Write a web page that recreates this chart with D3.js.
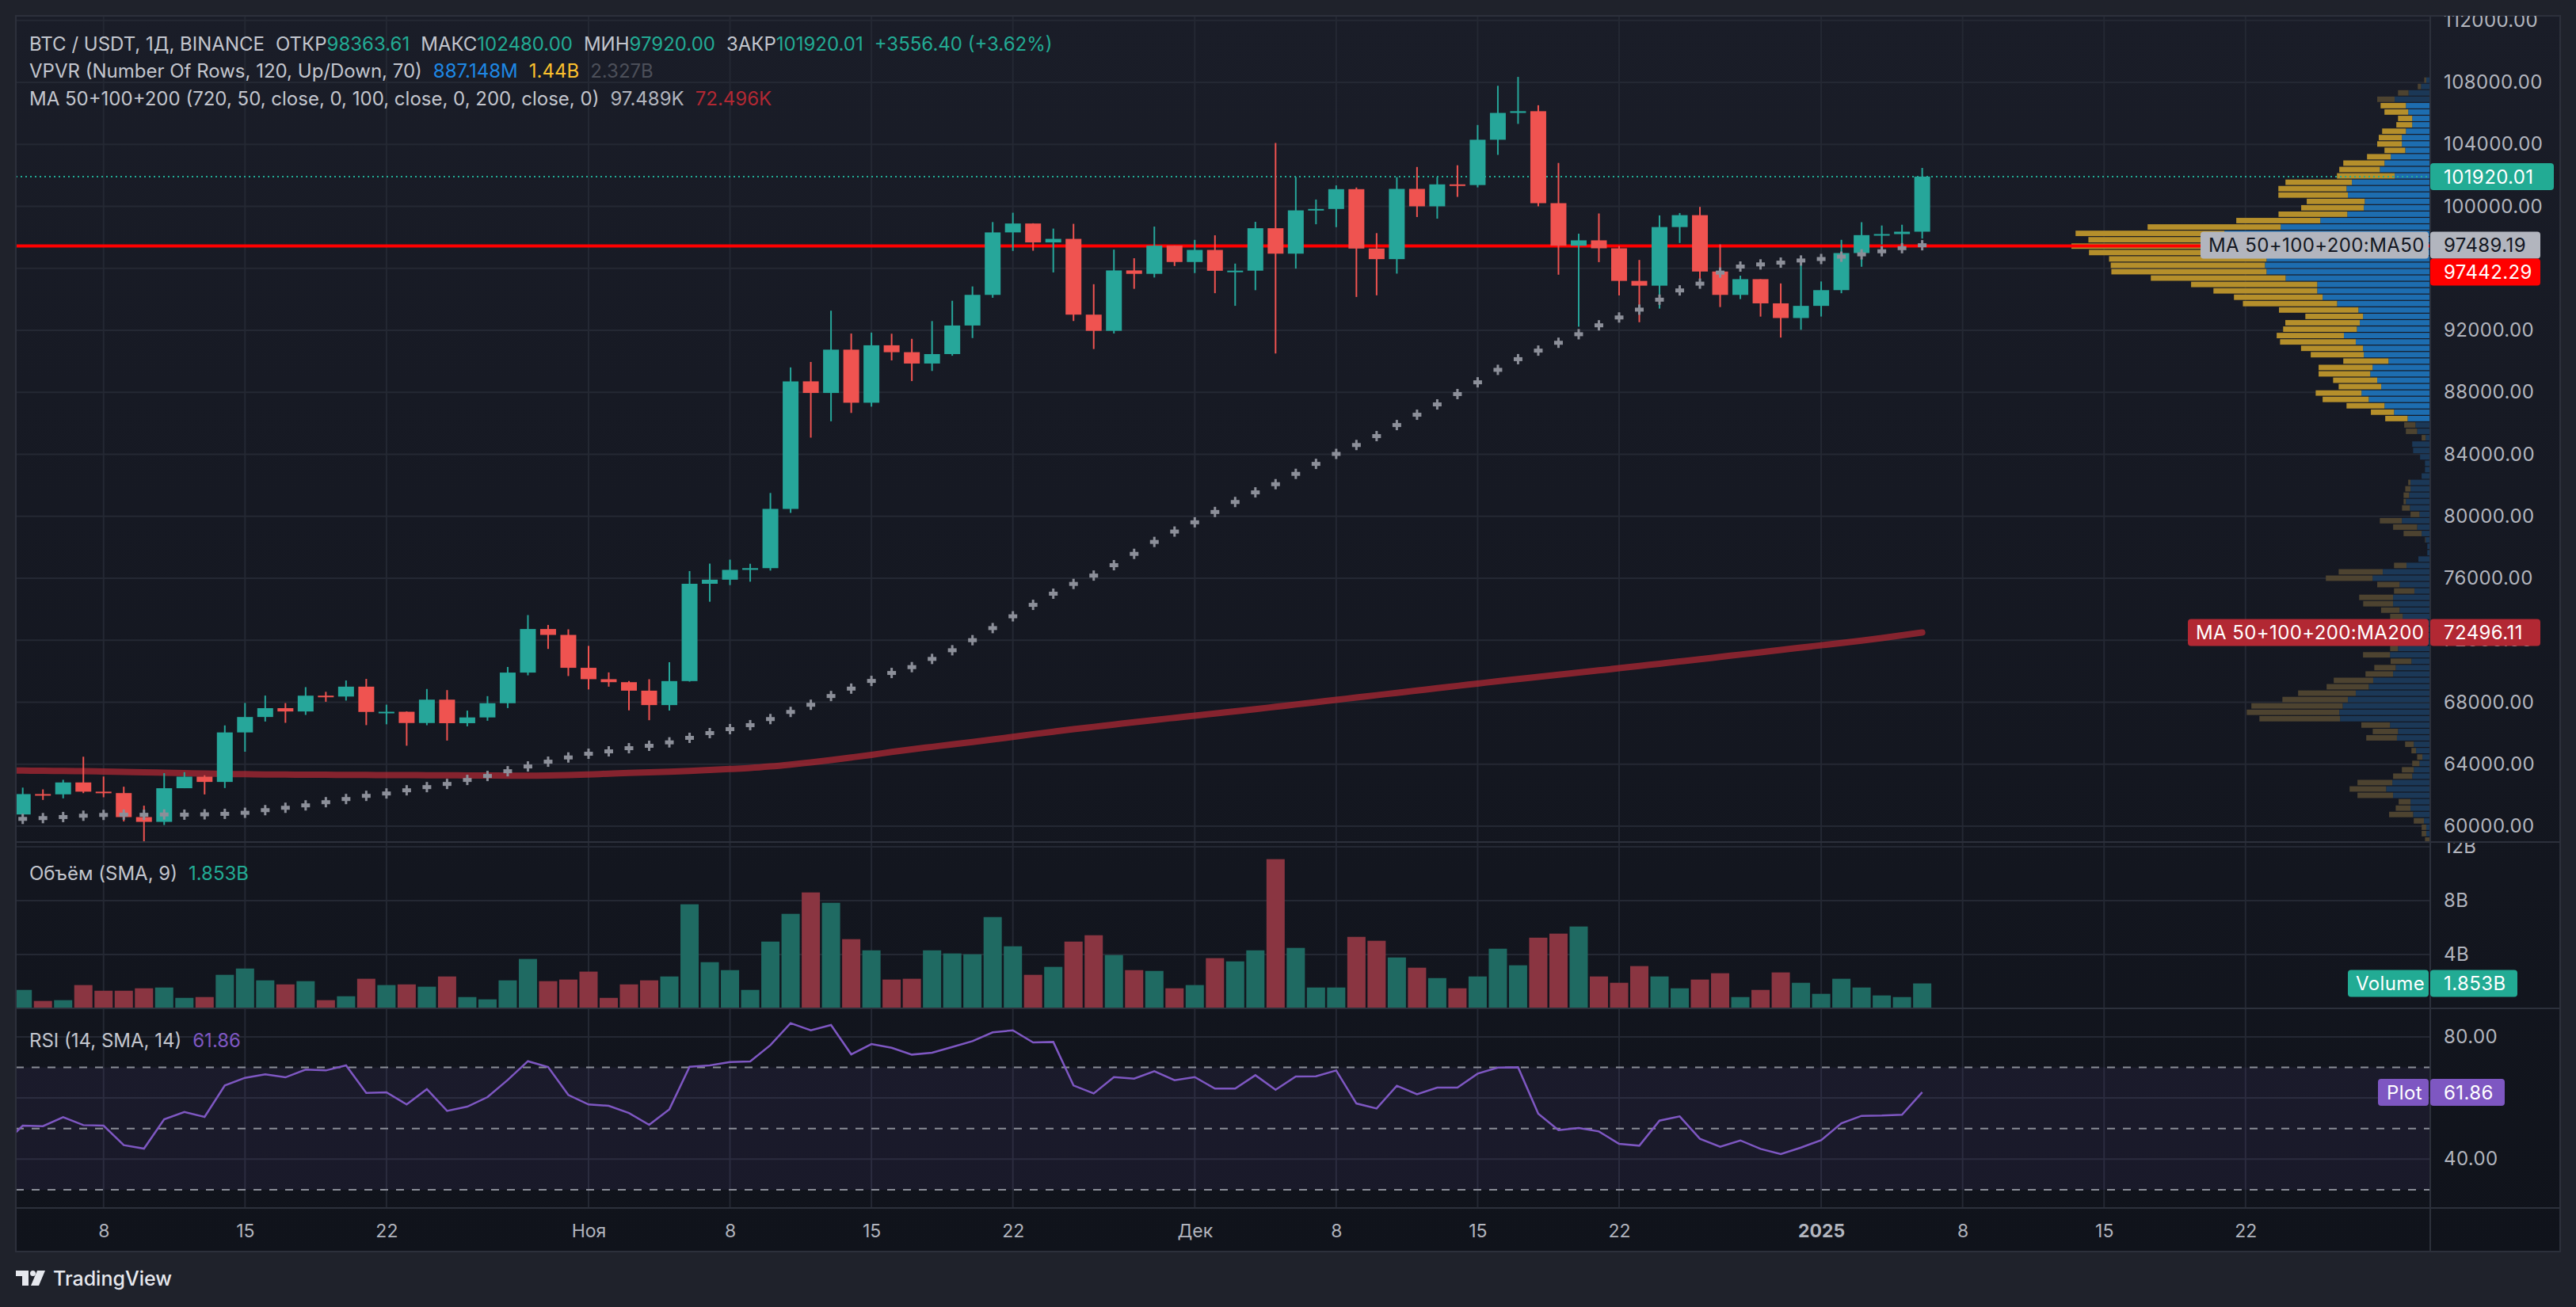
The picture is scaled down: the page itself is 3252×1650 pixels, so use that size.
<!DOCTYPE html>
<html>
<head>
<meta charset="utf-8">
<script src="https://cdn.jsdelivr.net/npm/d3@7"></script>
<style>
  body { margin: 0; background: #1f222b; }
  svg { display: block; }
</style>
</head>
<body>
<svg id="chart"></svg>
<script>
// ---- data ----
const firstDay = new Date(Date.UTC(2024, 9, 4));
const dates = d3.utcDay.range(firstDay, new Date(Date.UTC(2025, 0, 7)));   // Oct 4 .. Jan 6
const prevDay = new Date(Date.UTC(2024, 9, 3));

const open = [60750, 62067, 62050, 62818, 62224, 62131, 60582, 60274, 62445, 63193,
  62851, 66046, 67042, 67612, 67399, 68418, 68362, 69001, 67368, 67380,
  66653, 68161, 66642, 67014, 67930, 69908, 72720, 72340, 70216, 69482,
  69289, 68741, 67811, 69359, 75640, 75905, 76538, 76649, 80471, 88705,
  87955, 90751, 87325, 91032, 90587, 89855, 90464, 92310, 94286, 98318,
  98892, 97672, 97900, 93010, 91965, 95864, 95643, 97461, 96407, 97185,
  95840, 95849, 98587, 96945, 99741, 99831, 101109, 97276, 96593, 101126,
  100001, 101418, 101373, 104298, 106030, 106140, 100204, 97461, 97805, 97292,
  95187, 94880, 98663, 99430, 95792, 94284, 95300, 93738, 92792, 93576,
  94592, 96984, 98142, 98210, 98363.61];
const high = [62484, 62370, 62988, 64478, 63200, 62543, 61320, 63417, 63480, 63282,
  66500, 67950, 68424, 67939, 68969, 68668, 69400, 69500, 67836, 67402,
  68850, 68777, 67454, 68388, 70270, 73620, 72984, 72700, 71632, 69919,
  69362, 69480, 70577, 76460, 76943, 77199, 76932, 81500, 89604, 89956,
  93265, 91790, 91850, 91779, 91449, 92594, 93905, 94831, 98984, 99588,
  98908, 98564, 98871, 94973, 97208, 96650, 98693, 97463, 97836, 98130,
  96305, 99000, 104088, 101898, 100439, 101351, 101215, 98270, 101888, 102540,
  101895, 102650, 105250, 107780, 108353, 106524, 102800, 98233, 99540, 97448,
  96539, 99416, 99569, 99963, 97544, 95525, 95300, 95024, 96250, 95151,
  97839, 98976, 98763, 98813, 102480];
const low = [60459, 61689, 61792, 62128, 61860, 60300, 58895, 60070, 62445, 62045,
  62457, 64800, 66750, 66666, 67177, 68024, 68100, 66518, 66571, 65188,
  66510, 65521, 66439, 66800, 67618, 69730, 71436, 69685, 68820, 69000,
  67478, 66835, 67458, 69322, 74480, 75555, 75773, 76492, 80216, 85072,
  86127, 86668, 87073, 90056, 88722, 89376, 90357, 91500, 94100, 97122,
  97136, 95734, 92600, 90791, 91792, 94677, 95407, 96150, 95693, 94395,
  93579, 94587, 90500, 95981, 98844, 98657, 94150, 94256, 95658, 99311,
  99205, 100610, 101222, 103322, 105321, 100000, 95587, 92232, 96398, 94250,
  92520, 93400, 97632, 95200, 93500, 94014, 92883, 91530, 92033, 92888,
  94392, 96100, 97535, 97271, 97920];
const close = [62067, 62050, 62818, 62224, 62131, 60582, 60274, 62445, 63193, 62851,
  66046, 67041, 67612, 67399, 68418, 68362, 69001, 67368, 67380, 66653,
  68161, 66642, 67014, 67930, 69908, 72720, 72340, 70215, 69482, 69289,
  68741, 67811, 69360, 75640, 75905, 76538, 76649, 80474, 88701, 87955,
  90751, 87325, 91032, 90586, 89855, 90464, 92310, 94286, 98317, 98892,
  97672, 97900, 93010, 91965, 95863, 95643, 97461, 96407, 97185, 95841,
  95849, 98587, 96945, 99740, 99831, 101109, 97276, 96593, 101125, 100001,
  101418, 101373, 104298, 106030, 106140, 100204, 97461, 97805, 97291, 95187,
  94881, 98663, 99430, 95792, 94284, 95300, 93738, 92792, 93576, 94591,
  96984, 98142, 98210, 98363.61, 101920.01];

// volume, billions USDT
const volume = [1.37, 0.55, 0.61, 1.73, 1.31, 1.31, 1.49, 1.55, 0.78, 0.84,
  2.49, 2.96, 2.08, 1.78, 2.02, 0.61, 0.90, 2.20, 1.73, 1.78,
  1.61, 2.37, 0.84, 0.67, 2.08, 3.67, 2.02, 2.14, 2.73, 0.78,
  1.78, 2.08, 2.37, 7.73, 3.43, 2.84, 1.37, 4.96, 7.02, 8.61,
  7.84, 5.14, 4.31, 2.14, 2.20, 4.31, 4.08, 4.02, 6.78, 4.61,
  2.49, 3.08, 4.96, 5.43, 3.96, 2.84, 2.78, 1.49, 1.73, 3.73,
  3.49, 4.31, 11.08, 4.49, 1.55, 1.55, 5.31, 5.02, 3.78, 3.02,
  2.25, 1.49, 2.37, 4.43, 3.20, 5.25, 5.55, 6.08, 2.37, 1.90,
  3.14, 2.37, 1.49, 2.14, 2.61, 0.84, 1.37, 2.67, 1.90, 1.08,
  2.20, 1.55, 0.96, 0.84, 1.853];

const ma50 = [60466, 60517, 60585, 60671, 60722, 60740, 60730, 60750, 60740, 60760,
  60791, 60860, 61030, 61184, 61338, 61543, 61748, 61953, 62107, 62312,
  62517, 62722, 62979, 63235, 63542, 63850, 64158, 64431, 64671, 64825,
  65029, 65183, 65405, 65696, 66003, 66260, 66516, 66909, 67370, 67832,
  68396, 68874, 69370, 69883, 70260, 70790, 71350, 72000, 72780, 73540,
  74280, 75000, 75630, 76170, 76840, 77570, 78340, 79010, 79608, 80274,
  80918, 81539, 82068, 82734, 83378, 84022, 84597, 85171, 85884, 86551,
  87217, 87884, 88643, 89447, 90137, 90689, 91194, 91746, 92321, 92827,
  93333, 93976, 94574, 95011, 95724, 96114, 96252, 96367, 96505, 96600,
  96750, 96900, 97100, 97300, 97489.19];

// MA200 starts one day earlier (Oct 3) so the line runs to the left edge
const ma200 = [63600, 63580, 63570, 63560, 63545, 63525, 63500, 63475, 63450, 63420, 63395,
  63370, 63350, 63335, 63325, 63318, 63312, 63306, 63300, 63295, 63290,
  63285, 63280, 63272, 63265, 63258, 63255, 63268, 63295, 63335, 63385,
  63430, 63470, 63510, 63560, 63620, 63685, 63750, 63850, 63975, 64115,
  64265, 64430, 64600, 64785, 64955, 65115, 65275, 65430, 65590, 65760,
  65930, 66095, 66255, 66405, 66555, 66705, 66850, 66990, 67130, 67270,
  67410, 67550, 67700, 67850, 68000, 68150, 68300, 68450, 68600, 68750,
  68900, 69050, 69200, 69350, 69490, 69630, 69770, 69910, 70050, 70190,
  70335, 70480, 70625, 70770, 70920, 71070, 71220, 71370, 71520, 71670,
  71820, 71975, 72140, 72315, 72496.11];

// RSI 14, starts on Oct 3 as well
const rsi = [44.6, 50.95, 50.78, 53.71, 51.12, 50.95, 44.56, 43.44, 53.02, 55.44, 53.80,
  64.08, 66.58, 67.70, 66.75, 69.26, 69.00, 70.64, 61.66, 61.83, 57.86,
  62.87, 55.79, 57.17, 60.28, 65.89, 72.02, 70.12, 60.97, 57.86, 57.43,
  55.09, 51.21, 56.30, 70.21, 70.64, 71.76, 71.93, 77.29, 84.46, 82.12,
  83.85, 74.27, 77.63, 76.42, 74.18, 74.78, 76.68, 78.58, 81.45, 82.12,
  78.15, 78.32, 64.08, 61.49, 66.84, 66.32, 68.74, 65.80, 66.84, 63.04,
  63.04, 67.44, 62.69, 67.01, 67.10, 69.00, 58.20, 56.56, 63.99, 61.23,
  63.39, 63.39, 67.96, 69.95, 70.03, 54.84, 49.48, 50.17, 49.05, 44.99,
  44.39, 52.59, 53.97, 46.63, 44.04, 46.11, 43.35, 41.62, 43.78, 46.20,
  51.73, 54.15, 54.23, 54.49, 61.86];

// volume profile (visible range), 120 rows from the lowest low to the highest high, millions USDT
const vpLow = 58895, vpHigh = 108353, vpRows = 120;
const vpDown = [34, 30, 30, 66, 156, 96, 77, 231, 237, 226,
  124, 77, 47, 34, 30, 56, 199, 164, 186, 523,
  600, 592, 425, 374, 273, 256, 179, 139, 135, 175,
  51, 53, 64, 85, 75, 81, 120, 194, 220, 132,
  145, 303, 286, 81, 0, 0, 0, 4, 117, 156,
  143, 58, 51, 15, 36, 34, 15, 0, 0, 0,
  0, 0, 0, 26, 73, 73, 145, 150, 246, 299,
  297, 276, 286, 335, 350, 293, 344, 402, 491, 436,
  478, 483, 374, 515, 611, 575, 673, 818, 874, 1006,
  1000, 1021, 1006, 1440, 839, 965, 863, 545, 446, 406,
  376, 451, 442, 431, 374, 263, 267, 154, 135, 160,
  150, 154, 103, 92, 154, 164, 113, 68, 21, 13];
const vpUp = [0, 26, 26, 41, 111, 128, 128, 241, 286, 246,
  117, 107, 70, 51, 92, 107, 216, 209, 261, 585,
  590, 568, 534, 483, 399, 370, 241, 224, 122, 261,
  209, 203, 214, 203, 192, 179, 199, 241, 241, 103,
  199, 374, 308, 154, 77, 19, 19, 30, 56, 85,
  184, 70, 132, 158, 137, 128, 128, 56, 34, 34,
  66, 111, 117, 30, 85, 96, 147, 235, 297, 399,
  446, 318, 344, 389, 374, 271, 431, 436, 483, 560,
  476, 457, 436, 466, 604, 698, 733, 733, 938, 1062,
  1072, 1062, 1207, 887, 1378, 1335, 970, 713, 538, 431,
  425, 534, 543, 508, 231, 327, 297, 256, 162, 184,
  184, 158, 117, 117, 143, 158, 231, 141, 60, 26];
const valueArea = [66, 115];       // first and last row inside the 70% value area
const pocPrice = 97442.29;
const lastPrice = 101920.01;

const priceTicks = [60000, 64000, 68000, 72000, 76000, 80000, 84000, 88000, 92000, 96000, 100000, 104000, 108000, 112000];
const volTicks = [4, 8, 12];
const rsiTicks = [40, 60, 80];
const rsiLabels = [40, 80];
const rsiLevels = [70, 50, 30];
const timeTicks = [[2024, 9, 8], [2024, 9, 15], [2024, 9, 22], [2024, 10, 1], [2024, 10, 8], [2024, 10, 15],
  [2024, 10, 22], [2024, 11, 1], [2024, 11, 8], [2024, 11, 15], [2024, 11, 22], [2025, 0, 1],
  [2025, 0, 8], [2025, 0, 15], [2025, 0, 22]].map(a => new Date(Date.UTC(a[0], a[1], a[2])));
const timeLabels = ['8', '15', '22', 'Ноя', '8', '15', '22', 'Дек', '8', '15', '22', '2025', '8', '15', '22'];

// ---- layout ----
const W = 3252, H = 1650;
const L = 20, T = 20, PR = 3068, R = 3232;
const mainB = 1063, volB = 1273, rsiB = 1525, axB = 1580;
const FONT = 'Inter, "Noto Sans", sans-serif';
const txt = '#b2b5be', grid = '#242833', sep = '#2c303b';
const upC = '#26a69a', dnC = '#ef5350';

const all = dates.length;
const x = d3.scaleUtc()
  .domain([dates[0], dates[all - 1]])
  .range([28.7, 28.7 + (all - 1) * 25.51]);
const yP = d3.scaleLinear().domain([60000, 108000]).range([1042.9, 104]);
const yV = d3.scaleLinear().domain([0, 12]).range([volB, 1069]);
const yR = d3.scaleLinear().domain([30, 70]).range([1501.9, 1347.5]);
const vpW = d3.scaleLinear().domain([0, 2327]).range([0, 453]);

const svg = d3.select('#chart').attr('width', W).attr('height', H)
  .style('font-family', FONT);
const defs = svg.append('defs');
const bg = defs.append('linearGradient').attr('id', 'bg')
  .attr('x1', 0).attr('y1', 0).attr('x2', 0).attr('y2', 1);
bg.append('stop').attr('offset', 0).attr('stop-color', '#1a1d28');
bg.append('stop').attr('offset', 1).attr('stop-color', '#10131b');

const clip = (id, x0, y0, w, h) => defs.append('clipPath').attr('id', id)
  .append('rect').attr('x', x0).attr('y', y0).attr('width', w).attr('height', h);
clip('c-main', L, T, PR - L, mainB - T);
clip('c-vol', L, mainB, PR - L, volB - mainB);
clip('c-rsi', L, volB, PR - L, rsiB - volB);
clip('c-amain', PR, T, R - PR, mainB - T);
clip('c-avol', PR, mainB + 1, R - PR, volB - mainB - 1);

svg.append('rect').attr('width', W).attr('height', H).attr('fill', '#1f222b');
svg.append('rect').attr('x', L).attr('y', T).attr('width', R - L).attr('height', axB - T)
  .attr('fill', 'url(#bg)');

// ---- grid ----
const gGrid = svg.append('g').attr('stroke', grid).attr('stroke-width', 2);
gGrid.selectAll('.v').data(timeTicks).join('line')
  .attr('x1', d => x(d)).attr('x2', d => x(d)).attr('y1', T).attr('y2', rsiB);
gGrid.selectAll('.p').data(priceTicks).join('line')
  .attr('x1', L).attr('x2', PR).attr('y1', d => yP(d)).attr('y2', d => yP(d))
  .attr('clip-path', 'url(#c-main)');
gGrid.selectAll('.vv').data(volTicks).join('line')
  .attr('x1', L).attr('x2', PR).attr('y1', d => yV(d)).attr('y2', d => yV(d));
gGrid.selectAll('.r').data(rsiTicks).join('line')
  .attr('x1', L).attr('x2', PR).attr('y1', d => yR(d)).attr('y2', d => yR(d));

// ---- volume profile ----
const rowH = (vpHigh - vpLow) / vpRows;
const gVp = svg.append('g').attr('clip-path', 'url(#c-main)');
const rows = d3.range(vpRows).map(i => ({
  i, lo: vpLow + i * rowH, up: vpUp[i], dn: vpDown[i],
  inVa: i >= valueArea[0] && i <= valueArea[1]
}));
rows.forEach(r => {
  const yTop = yP(r.lo + rowH) + 0.6;
  const h = Math.abs(yP(r.lo) - yP(r.lo + rowH)) - 1.2;
  gVp.append('rect').attr('x', PR - vpW(r.up)).attr('y', yTop)
    .attr('width', vpW(r.up)).attr('height', h)
    .attr('fill', r.inVa ? '#1d6db0' : '#1b3857');
  gVp.append('rect').attr('x', PR - vpW(r.up) - vpW(r.dn)).attr('y', yTop)
    .attr('width', vpW(r.dn)).attr('height', h)
    .attr('fill', r.inVa ? '#b58f2b' : '#4d4330');
});

// ---- main pane ----
const gMain = svg.append('g').attr('clip-path', 'url(#c-main)');

const ma200Dates = [prevDay].concat(dates);
gMain.append('path')
  .datum(ma200)
  .attr('d', d3.line().x((d, i) => x(ma200Dates[i])).y(d => yP(d)).curve(d3.curveMonotoneX))
  .attr('fill', 'none').attr('stroke', '#b22833').attr('stroke-opacity', 0.72)
  .attr('stroke-width', 8).attr('stroke-linecap', 'round');

// price line and point of control
gMain.append('line').attr('x1', L).attr('x2', PR)
  .attr('y1', yP(lastPrice)).attr('y2', yP(lastPrice))
  .attr('stroke', '#22ab94').attr('stroke-width', 2).attr('stroke-dasharray', '2,4');
gMain.append('line').attr('x1', L).attr('x2', PR)
  .attr('y1', yP(pocPrice)).attr('y2', yP(pocPrice))
  .attr('stroke', '#ff0000').attr('stroke-width', 4);

// candles
const candles = gMain.selectAll('.candle').data(dates).join('g');
candles.append('line')
  .attr('x1', d => x(d)).attr('x2', d => x(d))
  .attr('y1', (d, i) => yP(high[i])).attr('y2', (d, i) => yP(low[i]))
  .attr('stroke', (d, i) => close[i] >= open[i] ? upC : dnC).attr('stroke-width', 2);
candles.append('rect')
  .attr('x', d => x(d) - 10).attr('width', 20)
  .attr('y', (d, i) => yP(Math.max(open[i], close[i])))
  .attr('height', (d, i) => Math.max(2, Math.abs(yP(open[i]) - yP(close[i]))))
  .attr('fill', (d, i) => close[i] >= open[i] ? upC : dnC);

// MA50 as crosses
const crosses = gMain.selectAll('.ma50').data(dates).join('g').attr('fill', '#8c8f99');
crosses.append('rect').attr('x', d => x(d) - 1.5).attr('y', (d, i) => yP(ma50[i]) - 6.5)
  .attr('width', 3).attr('height', 13);
crosses.append('rect').attr('x', d => x(d) - 5.5).attr('y', (d, i) => yP(ma50[i]) - 2.5)
  .attr('width', 11).attr('height', 5);

// ---- volume pane ----
svg.append('g').attr('clip-path', 'url(#c-vol)')
  .selectAll('rect').data(dates).join('rect')
  .attr('x', d => x(d) - 11.5).attr('width', 23)
  .attr('y', (d, i) => yV(volume[i])).attr('height', (d, i) => yV(0) - yV(volume[i]))
  .attr('fill', (d, i) => close[i] >= open[i] ? '#1f6a62' : '#8a3541');

// ---- RSI pane ----
const gR = svg.append('g').attr('clip-path', 'url(#c-rsi)');
gR.append('rect').attr('x', L).attr('width', PR - L)
  .attr('y', yR(70)).attr('height', yR(30) - yR(70)).attr('fill', 'rgba(126,87,194,0.09)');
gR.selectAll('.lvl').data(rsiLevels).join('line')
  .attr('x1', L).attr('x2', PR).attr('y1', d => yR(d)).attr('y2', d => yR(d))
  .attr('stroke', '#8a8d97').attr('stroke-width', 2).attr('stroke-dasharray', '10,10');
gR.append('path').datum(rsi)
  .attr('d', d3.line().x((d, i) => x(ma200Dates[i])).y(d => yR(d)))
  .attr('fill', 'none').attr('stroke', '#7e57c2').attr('stroke-width', 2.5);

// ---- separators ----
const gSep = svg.append('g').attr('stroke', sep).attr('stroke-width', 2);
[mainB, volB, rsiB].forEach(y => gSep.append('line').attr('x1', L).attr('x2', R).attr('y1', y).attr('y2', y));
gSep.append('line').attr('x1', PR).attr('x2', PR).attr('y1', T).attr('y2', axB);
gSep.append('rect').attr('x', L).attr('y', T).attr('width', R - L).attr('height', axB - T)
  .attr('fill', 'none');

// ---- axes ----
const styleAxis = g => {
  g.select('.domain').remove();
  g.selectAll('line').remove();
  g.selectAll('text').attr('fill', txt).style('font-size', '24px')
    .style('letter-spacing', '0.4px').style('font-family', FONT);
};
svg.append('g').attr('clip-path', 'url(#c-amain)')
  .append('g').attr('transform', `translate(${PR},0)`)
  .call(d3.axisRight(yP).tickValues(priceTicks).tickFormat(d3.format('.2f')).tickSize(0).tickPadding(17))
  .call(styleAxis);
svg.append('g').attr('clip-path', 'url(#c-avol)')
  .append('g').attr('transform', `translate(${PR},0)`)
  .call(d3.axisRight(yV).tickValues(volTicks).tickFormat(d => d + 'B').tickSize(0).tickPadding(17))
  .call(styleAxis);
svg.append('g').attr('transform', `translate(${PR},0)`)
  .call(d3.axisRight(yR).tickValues(rsiLabels).tickFormat(d3.format('.2f')).tickSize(0).tickPadding(17))
  .call(styleAxis);
svg.append('g').attr('transform', `translate(0,${rsiB})`)
  .call(d3.axisBottom(x).tickValues(timeTicks).tickFormat((d, i) => timeLabels[i]).tickSize(0).tickPadding(21))
  .call(styleAxis)
  .selectAll('text').style('font-size', '23px').style('letter-spacing', '0px')
  .style('font-weight', (d, i) => timeLabels[i] === '2025' ? 700 : 400);

// ---- axis tags ----
function tag(x0, x1, yc, fill, label, color, tx) {
  const g = svg.append('g');
  g.append('rect').attr('x', x0).attr('y', yc - 17).attr('width', x1 - x0).attr('height', 34)
    .attr('rx', 4).attr('fill', fill);
  g.append('text').attr('x', tx).attr('y', yc).attr('dy', '0.36em')
    .attr('fill', color).style('font-size', '24px').style('letter-spacing', '0.4px').text(label);
}
const yLast = yP(lastPrice);
tag(PR, 3224, yLast, '#22ab94', '101920.01', '#ffffff', 3085);
const yMa50 = yP(ma50[all - 1]);
tag(2778, 3066, yMa50, '#b2b5be', 'MA 50+100+200:MA50', '#131722', 2788);
tag(PR, 3207, yMa50, '#b2b5be', '97489.19', '#131722', 3085);
tag(PR, 3207, yMa50 + 34, '#ff0000', '97442.29', '#ffffff', 3085);
const yMa200 = yP(ma200[ma200.length - 1]);
tag(2762, 3066, yMa200, '#b22833', 'MA 50+100+200:MA200', '#ffffff', 2772);
tag(PR, 3207, yMa200, '#b22833', '72496.11', '#ffffff', 3085);
const yVolLast = yV(volume[all - 1]);
tag(2964, 3066, yVolLast, '#22ab94', 'Volume', '#ffffff', 2974);
tag(PR, 3178, yVolLast, '#22ab94', '1.853B', '#ffffff', 3085);
const yRsiLast = yR(rsi[rsi.length - 1]);
tag(3002, 3066, yRsiLast, '#7e57c2', 'Plot', '#ffffff', 3013);
tag(PR, 3162, yRsiLast, '#7e57c2', '61.86', '#ffffff', 3085);

// ---- legends ----
const green = '#22ab94', base = '#c3c6ce';
function legend(y, parts) {
  const t = svg.append('text').attr('x', 37).attr('y', y).attr('dy', '0.36em')
    .style('font-size', '24px');
  parts.forEach(p => t.append('tspan').attr('dx', p[2] || 0).attr('fill', p[1]).text(p[0]));
}
legend(55, [['BTC / USDT, 1Д, BINANCE', base], ['ОТКР', base, 14], ['98363.61', green],
  ['МАКС', base, 14], ['102480.00', green], ['МИН', base, 14], ['97920.00', green],
  ['ЗАКР', base, 14], ['101920.01', green], ['+3556.40 (+3.62%)', green, 14]]);
legend(89, [['VPVR (Number Of Rows, 120, Up/Down, 70)', base], ['887.148M', '#1e88e5', 14],
  ['1.44B', '#fbc02d', 14], ['2.327B', '#4c4f59', 14]]);
legend(124, [['MA 50+100+200 (720, 50, close, 0, 100, close, 0, 200, close, 0)', base],
  ['97.489K', '#b2b5be', 14], ['72.496K', '#b22833', 14]]);
legend(1102, [['Объём (SMA, 9)', base], ['1.853B', green, 14]]);
legend(1313, [['RSI (14, SMA, 14)', base], ['61.86', '#7e57c2', 14]]);

// ---- logo ----
const logo = svg.append('g').attr('transform', 'translate(20,1604)').attr('fill', '#e6e8ee');
logo.append('path').attr('d', 'M0 0H16V19H8V7H0Z');
logo.append('circle').attr('cx', 21.5).attr('cy', 3.5).attr('r', 3.5);
logo.append('path').attr('d', 'M27 0H37L29 19H19Z');
svg.append('text').attr('x', 67).attr('y', 1623).attr('fill', '#e6e8ee')
  .style('font-size', '25px').style('font-weight', 500).text('TradingView');
</script>
</body>
</html>
